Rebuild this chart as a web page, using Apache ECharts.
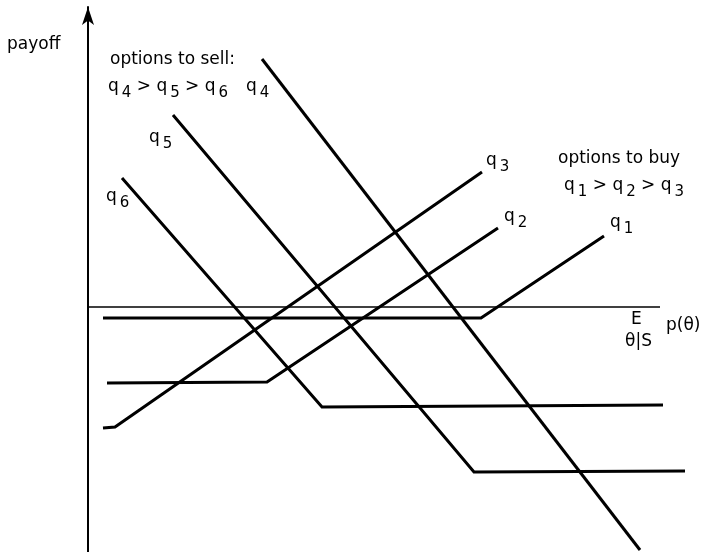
<!DOCTYPE html>
<html>
<head>
<meta charset="utf-8">
<script src="https://cdn.jsdelivr.net/npm/echarts@6/dist/echarts.min.js"></script>
<style>
  html, body {margin: 0; padding: 0; background: #fff;}
  #chart {width: 707px; height: 552px;}
</style>
</head>
<body>
<div id="chart"></div>
<script>
// x: position along E_{θ|S} p(θ), y: payoff (0 = horizontal axis)
const buyQ1 = [[15, -11], [393, -11], [516, 71]];
const buyQ2 = [[19, -76], [179, -75], [410, 79]];
const buyQ3 = [[15, -121], [27, -120], [394, 135]];
const sellQ4 = [[174, 248], [552, -243]];
const sellQ5 = [[85, 192], [386, -165], [597, -164]];
const sellQ6 = [[34, 129], [234, -100], [575, -98]];
const zeroLine = [[0, 0], [572, 0]];

const FONT = "\"DejaVu Sans\", sans-serif";
const INK = "#000";

const rich = {
  t: {fontSize: 17, fontFamily: FONT, color: INK, verticalAlign: "top", lineHeight: 20},
  s: {fontSize: 15, fontFamily: FONT, color: INK, verticalAlign: "top", lineHeight: 20, padding: [8, 0, 0, 3]},
};

function q(n) {
  return "{t|q}{s|" + n + "}";
}

function label(left, top, text) {
  return {
    type: "text",
    left: left,
    top: top,
    style: {text: text, rich: rich, fill: INK, font: "17px " + FONT},
  };
}

function lineSeries(name, data, width) {
  return {
    name: name,
    type: "line",
    data: data,
    showSymbol: false,
    silent: true,
    lineStyle: {color: INK, width: width || 3, join: "miter"},
  };
}

const chart = echarts.init(document.getElementById("chart"));

chart.setOption({
  animation: false,
  backgroundColor: "#fff",
  grid: {left: 0, right: 0, top: 7, bottom: 0},
  xAxis: {
    type: "value",
    min: -88,
    max: 619,
    axisLine: {show: false},
    axisTick: {show: false},
    axisLabel: {show: false},
    splitLine: {show: false},
  },
  yAxis: {
    type: "value",
    min: -245,
    max: 300,
    axisLine: {
      show: true,
      onZero: true,
      symbol: ["none", "arrow"],
      symbolSize: [9, 18],
      lineStyle: {color: INK, width: 2},
    },
    axisTick: {show: false},
    axisLabel: {show: false},
    splitLine: {show: false},
  },
  series: [
    lineSeries("axis", zeroLine, 1.5),
    lineSeries("q1", buyQ1),
    lineSeries("q2", buyQ2),
    lineSeries("q3", buyQ3),
    lineSeries("q4", sellQ4),
    lineSeries("q5", sellQ5),
    lineSeries("q6", sellQ6),
  ],
  graphic: [
    label(7, 36, "{t|payoff}"),
    label(110, 51, "{t|options to sell:}"),
    label(108, 78, q(4) + "{t| > }" + q(5) + "{t| > }" + q(6)),
    label(246, 78, q(4)),
    label(149, 129, q(5)),
    label(106, 188, q(6)),
    label(486, 152, q(3)),
    label(504, 208, q(2)),
    label(610, 214, q(1)),
    label(558, 150, "{t|options to buy}"),
    label(564, 177, q(1) + "{t| > }" + q(2) + "{t| > }" + q(3)),
    label(631, 311, "{t|E}"),
    label(625, 333, "{t|θ|S}"),
    label(666, 317, "{t|p(θ)}"),
  ],
});
</script>
</body>
</html>
